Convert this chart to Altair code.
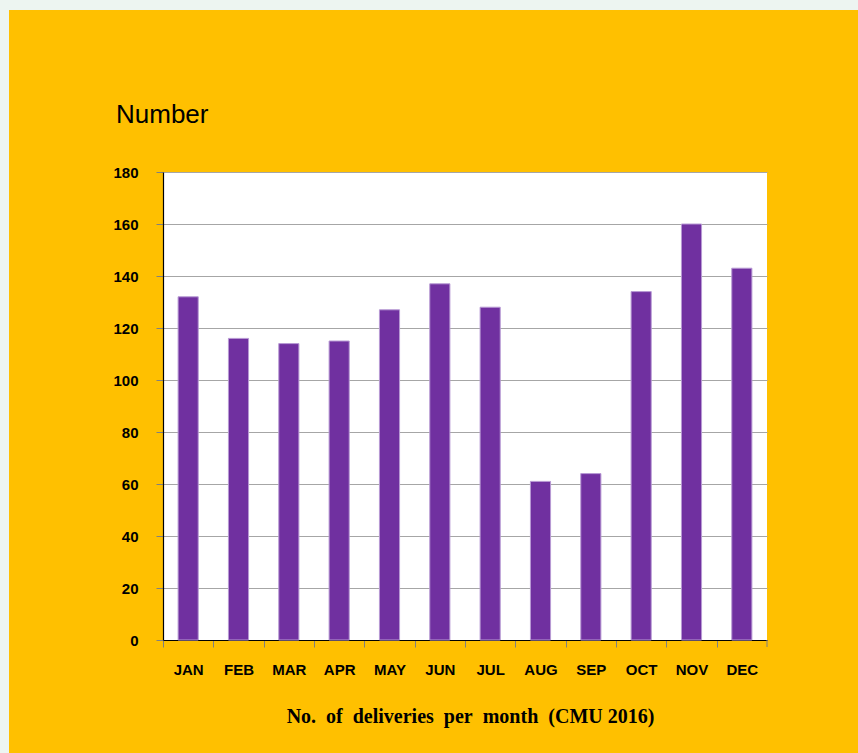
import altair as alt
import pandas as pd

# Monthly delivery counts
months = ["JAN", "FEB", "MAR", "APR", "MAY", "JUN",
          "JUL", "AUG", "SEP", "OCT", "NOV", "DEC"]
deliveries = [132, 116, 114, 115, 127, 137, 128, 61, 64, 134, 160, 143]
y_ticks = [0, 20, 40, 60, 80, 100, 120, 140, 160, 180]
y_label = "Number"

df = pd.DataFrame({"month": months, "count": deliveries})

W, H = 604, 468
PAD_L, PAD_T = 163, 172
ORANGE = "#FFC000"
FRAME = "#EDF5F1"

# band layout: inner padding 0.6, outer 0.3 -> one step per month
STEP = W / len(months)

bars = alt.Chart(df).mark_bar(
    color="#7030A0", stroke="#B89AD4", strokeWidth=1
).encode(
    x=alt.X(
        "month:N",
        sort=months,
        scale=alt.Scale(paddingInner=0.6, paddingOuter=0.3),
        axis=alt.Axis(
            title="No.\u00a0 of\u00a0 deliveries\u00a0 per\u00a0 month\u00a0 (CMU 2016)",
            labelAngle=0,
            grid=False,
            domainColor="#000000",
            domainWidth=1.2,
            tickColor="#808080",
            tickSize=7,
            tickOffset=-STEP / 2,
            labelOffset=STEP / 2,
            labelPadding=15,
            labelFont="Liberation Sans",
            labelFontSize=15,
            labelFontWeight="bold",
            labelColor="#000000",
            titleFont="Liberation Serif",
            titleFontSize=20,
            titleFontWeight="bold",
            titleColor="#000000",
            titlePadding=29,
            titleX=W / 2 + 5,
        ),
    ),
    y=alt.Y(
        "count:Q",
        scale=alt.Scale(domain=[0, 180]),
        axis=alt.Axis(
            title=None,
            values=y_ticks,
            grid=True,
            gridColor="#A6A6A6",
            gridWidth=1,
            domainColor="#000000",
            domainWidth=1.2,
            tickColor="#808080",
            tickSize=7,
            labelPadding=18,
            labelFont="Liberation Sans",
            labelFontSize=15,
            labelFontWeight="bold",
            labelColor="#000000",
        ),
    ),
)

# light frame along the top and left edge of the page
frame_df = pd.DataFrame({"k": [0]})
top_strip = alt.Chart(frame_df).mark_rect(color=FRAME).encode(
    x=alt.value(-PAD_L), x2=alt.value(858 - PAD_L),
    y=alt.value(-PAD_T), y2=alt.value(-PAD_T + 10),
)
left_strip = alt.Chart(frame_df).mark_rect(color=FRAME).encode(
    x=alt.value(-PAD_L), x2=alt.value(-PAD_L + 9),
    y=alt.value(-PAD_T), y2=alt.value(753 - PAD_T),
)

# closing tick at the right end of the category axis
end_tick = alt.Chart(frame_df).mark_rule(color="#808080").encode(
    x=alt.value(W), y=alt.value(H), y2=alt.value(H + 7),
)

# value-axis caption above the plot
caption = alt.Chart(pd.DataFrame({"t": [y_label]})).mark_text(
    align="left",
    baseline="alphabetic",
    font="Liberation Sans Narrow, Arial Narrow, Liberation Sans",
    fontSize=26,
    color="#000000",
).encode(
    text="t:N",
    x=alt.value(-47),
    y=alt.value(-49),
)

chart = alt.layer(bars, top_strip, left_strip, end_tick, caption).properties(
    width=W,
    height=H,
    background=ORANGE,
    padding={"left": PAD_L, "top": PAD_T, "right": 858 - PAD_L - W, "bottom": 753 - PAD_T - H},
    autosize=alt.AutoSizeParams(type="none"),
).configure_view(
    fill="#FFFFFF",
    stroke=None,
)

chart.save("out.html", embed_options={"renderer": "svg", "actions": False})
